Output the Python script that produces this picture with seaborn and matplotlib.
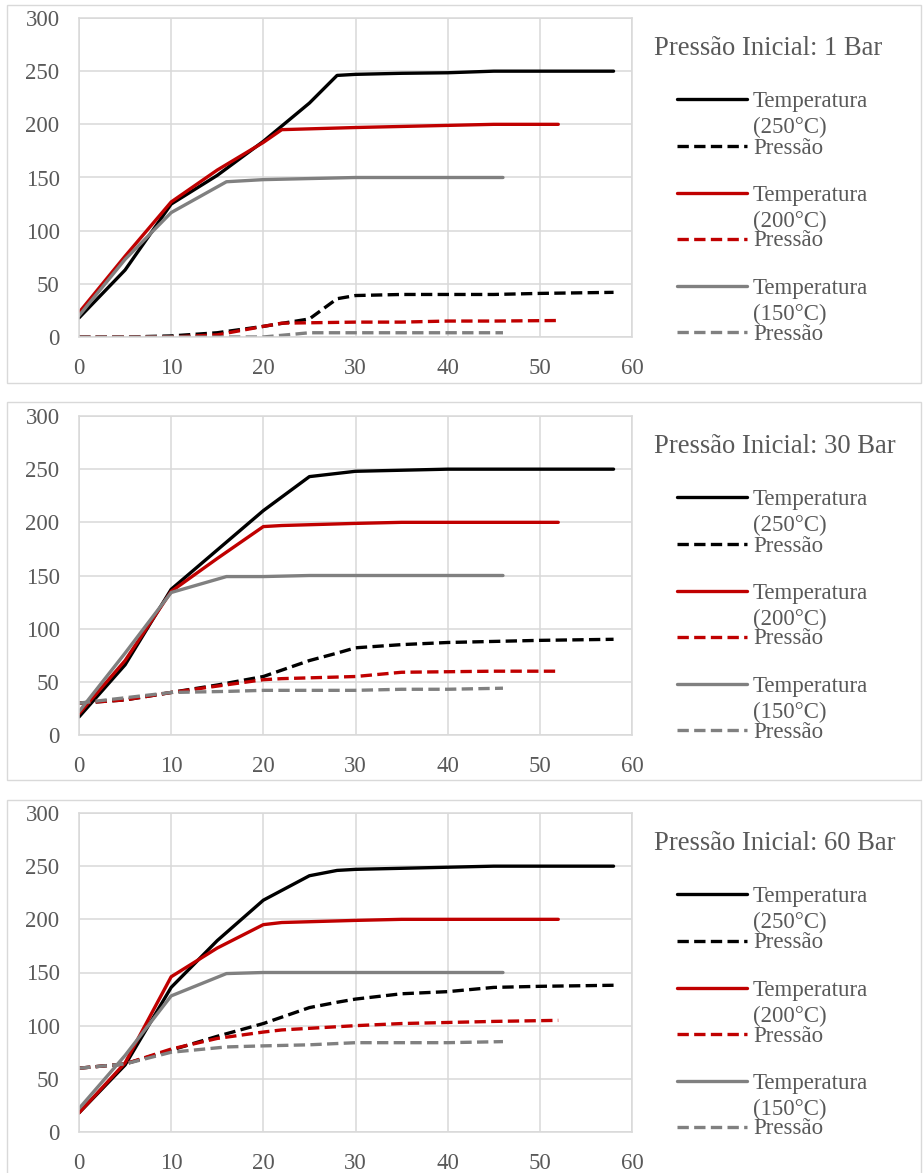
import matplotlib
matplotlib.use("Agg")
import matplotlib.pyplot as plt
from matplotlib.lines import Line2D
from matplotlib.patches import Rectangle
import seaborn as sns

# Time points (min) for each run
x_250 = [0, 5, 10, 15, 20, 25, 28, 30, 35, 40, 45, 50, 58]
x_200 = [0, 5, 10, 15, 20, 22, 30, 35, 40, 45, 52]
x_150 = [0, 5, 10, 16, 20, 25, 30, 35, 40, 46]

# Initial pressure 1 bar
t250_1bar = [18, 63, 125, 152, 184, 220, 246, 247, 248, 248.5, 250, 250, 250]
p250_1bar = [0, 0, 1, 4, 10, 17, 36, 39, 40, 40, 40, 41, 42]
t200_1bar = [23, 76, 127, 157, 183, 195, 197, 198, 199, 200, 200]
p200_1bar = [0, 0, 0, 2, 10, 13, 14, 14, 15, 15, 15.5]
t150_1bar = [20, 73, 117, 146, 148, 149, 150, 150, 150, 150]
p150_1bar = [0, 0, 0, 0, 0, 4, 4, 4, 4, 4]

# Initial pressure 30 bar
t250_30bar = [17, 66, 137, 174, 211, 243, 246, 248, 249, 250, 250, 250, 250]
p250_30bar = [30, 33, 40, 47, 55, 70, 77, 82, 85, 87, 88, 89, 90]
t200_30bar = [20, 70, 135, 166, 196, 197, 199, 200, 200, 200, 200]
p200_30bar = [30, 33, 40, 46, 52, 53, 55, 59, 59.5, 60, 60]
t150_30bar = [22, 77, 134, 149, 149, 150, 150, 150, 150, 150]
p150_30bar = [30, 35, 40, 41, 42, 42, 42, 43, 43, 44]

# Initial pressure 60 bar
t250_60bar = [18, 63, 136, 180, 218, 241, 246, 247, 248, 249, 250, 250, 250]
p250_60bar = [60, 64, 77, 90, 102, 117, 122, 125, 130, 132, 136, 137, 138]
t200_60bar = [18, 65, 146, 173, 195, 197, 199, 200, 200, 200, 200]
p200_60bar = [60, 64, 78, 88, 94, 96, 100, 102, 103, 104, 105]
t150_60bar = [22, 72, 128, 149, 150, 150, 150, 150, 150, 150]
p150_60bar = [60, 64, 75, 80, 81, 82, 84, 84, 84, 85]

panel_titles = ["Pressão Inicial: 1 Bar", "Pressão Inicial: 30 Bar", "Pressão Inicial: 60 Bar"]
x_ticks = [0, 10, 20, 30, 40, 50, 60]
y_ticks = [0, 50, 100, 150, 200, 250, 300]
temp_labels = ["Temperatura\n(250°C)", "Temperatura\n(200°C)", "Temperatura\n(150°C)"]
press_label = "Pressão"

panels = [
    [(x_250, t250_1bar, p250_1bar), (x_200, t200_1bar, p200_1bar), (x_150, t150_1bar, p150_1bar)],
    [(x_250, t250_30bar, p250_30bar), (x_200, t200_30bar, p200_30bar), (x_150, t150_30bar, p150_30bar)],
    [(x_250, t250_60bar, p250_60bar), (x_200, t200_60bar, p200_60bar), (x_150, t150_60bar, p150_60bar)],
]

colors = ["#000000", "#C00000", "#808080"]
GRID = "#D9D9D9"
TEXT = "#595959"
LW = 2.4
DASH = (3.4, 1.6)

sns.set_theme(style="white")
plt.rcParams["font.family"] = ["Liberation Serif", "DejaVu Serif"]

W, H = 923, 1173
fig = plt.figure(figsize=(W / 100, H / 100), dpi=100)


def fx(px):
    return px / W


def fy(py):
    return 1 - py / H


plot_tops = [18, 416, 813]
plot_h = 319
plot_left, plot_right = 79, 632
boxes = [(5, 383), (402, 780), (800, 1185)]

for i, series in enumerate(panels):
    top = plot_tops[i]
    # panel frame
    b0, b1 = boxes[i]
    fig.add_artist(Rectangle((fx(7), fy(b1)), fx(921) - fx(7), fy(b0) - fy(b1),
                             transform=fig.transFigure, fill=False,
                             edgecolor=GRID, linewidth=1.0))

    ax = fig.add_axes([fx(plot_left), fy(top + plot_h),
                       fx(plot_right) - fx(plot_left), plot_h / H])
    for (xs, t, p), c in zip(series, colors):
        sns.lineplot(x=xs, y=t, ax=ax, color=c, linewidth=LW, sort=False,
                     estimator=None)
        ax.lines[-1].set_solid_joinstyle("round")
        ax.lines[-1].set_solid_capstyle("round")
        sns.lineplot(x=xs, y=p, ax=ax, color=c, linewidth=LW, sort=False,
                     estimator=None)
        ax.lines[-1].set_dashes(DASH)
        ax.lines[-1].set_dash_capstyle("butt")

    ax.set_xlim(0, 60)
    ax.set_ylim(0, 300)
    ax.set_xticks(x_ticks)
    ax.set_yticks(y_ticks)
    ax.grid(True, color=GRID, linewidth=1.1)
    ax.set_axisbelow(True)
    for s in ax.spines.values():
        s.set_color(GRID)
        s.set_linewidth(1.1)
    ax.tick_params(length=0, labelsize=16.5, labelcolor=TEXT)
    ax.tick_params(axis="y", pad=14)
    ax.tick_params(axis="x", pad=15)
    ax.set_xlabel("")
    ax.set_ylabel("")

    # legend block
    fig.text(fx(654), fy(top + 37), panel_titles[i], fontsize=19.2,
             color=TEXT, ha="left", va="baseline")
    handle_rows = [81, 128, 175, 221, 268, 314]
    for k, c in enumerate(colors):
        hs = top + handle_rows[2 * k]
        hp = top + handle_rows[2 * k + 1]
        ls = Line2D([fx(677), fx(747)], [fy(hs), fy(hs)], transform=fig.transFigure,
                    color=c, linewidth=LW, solid_capstyle="round")
        fig.add_artist(ls)
        lp = Line2D([fx(677), fx(747)], [fy(hp), fy(hp)], transform=fig.transFigure,
                    color=c, linewidth=LW)
        lp.set_dashes(DASH)
        fig.add_artist(lp)
        first, second = temp_labels[k].split("\n")
        fig.text(fx(753), fy(hs + 8), first, fontsize=16.5, color=TEXT,
                 ha="left", va="baseline")
        fig.text(fx(753), fy(hs + 34), second, fontsize=16.5, color=TEXT,
                 ha="left", va="baseline")
        fig.text(fx(753), fy(hp + 7.5), press_label, fontsize=16.5, color=TEXT,
                 ha="left", va="baseline")

fig.savefig("out.png", dpi=100, facecolor="white")
